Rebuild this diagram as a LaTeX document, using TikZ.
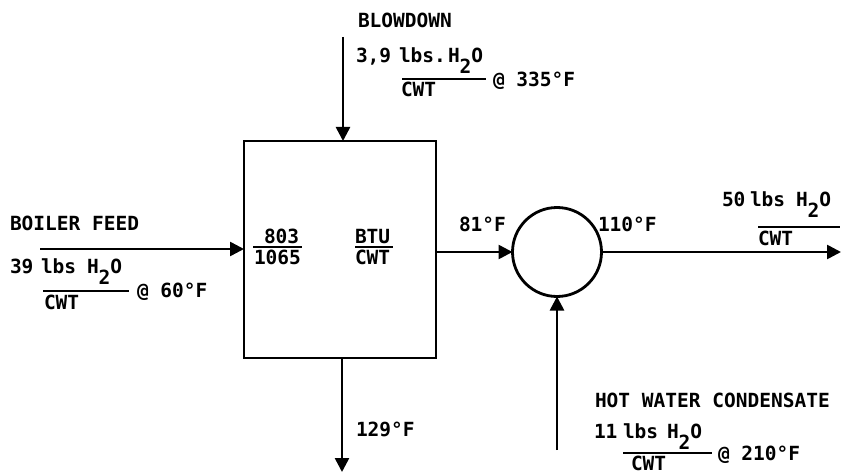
\documentclass[tikz,border=0pt]{standalone}
\usepackage{fontspec}
\setmonofont{DejaVu Sans Mono}
\usetikzlibrary{arrows.meta}
\newcommand{\lblfont}{\fontsize{19.5}{21}\selectfont\ttfamily\bfseries}
\newcommand{\HtwoO}{H\raisebox{-11pt}{2}O}
\tikzset{
  lab/.style={anchor=base west, inner sep=0pt, outer sep=0pt, font=\lblfont},
  flow/.style={line width=2.6pt, -{Triangle[length=14pt,width=14pt]}},
  fbar/.style={line width=1.8pt},
  unit/.style={draw, line width=2.8pt, inner sep=0pt, outer sep=0pt}
}
\begin{document}
\begin{tikzpicture}[x=1pt,y=-1pt]
\useasboundingbox (0,0) rectangle (841,476);
% units
\node[unit, rectangle, minimum width=192pt, minimum height=217pt] (boiler) at (340,249.5) {};
\node[unit, circle, minimum size=89pt] (hx) at (557,252) {};
% free ends
\coordinate (feedstart) at (40,249);
\coordinate (blowstart) at (343,37);
\coordinate (bottomend) at (342,472);
\coordinate (outend) at (841,252);
\coordinate (hwstart) at (557,450);
% connectors
\draw[flow] (feedstart) -- (feedstart -| boiler.west);
\draw[flow] (blowstart) -- (blowstart |- boiler.north);
\draw[flow] (bottomend |- boiler.south) -- (bottomend);
\draw[flow] (hx.west -| boiler.east) -- (hx.west);
\draw[flow] (hx.east) -- (outend);
\draw[flow] (hwstart) -- (hx.south);
% blowdown labels
\node[lab] (blowlbl) at (358,28) {BLOWDOWN};
\node[lab] (blowq) at (356,63) {3,9};
\node[lab] (blowu) at (399,63) {lbs.};
\node[lab] (blowh) at (448,63) {\HtwoO};
\draw[fbar] (402,79) -- (486,79);
\node[lab] (blowc) at (401,97) {CWT};
\node[lab] (blowt) at (493,87) {@ 335°F};
% boiler feed labels
\node[lab] (feedlbl) at (10,230) {BOILER FEED};
\node[lab] (feedq) at (10,273) {39};
\node[lab] (feedu) at (41,273) {lbs};
\node[lab] (feedh) at (87,273) {\HtwoO};
\draw[fbar] (43,291) -- (129,291);
\node[lab] (feedc) at (44,309) {CWT};
\node[lab] (feedt) at (137,297) {@ 60°F};
% box texts
\node[lab] (n803) at (264,243) {803};
\draw[fbar] (253,247) -- (302,247);
\node[lab] (n1065) at (254,264) {1065};
\node[lab] (nbtu) at (355,243) {BTU};
\draw[fbar] (355,247) -- (393,247);
\node[lab] (ncwt) at (355,264) {CWT};
% temperatures
\node[lab] (t81) at (459,231) {81°F};
\node[lab] (t110) at (598,231) {110°F};
\node[lab] (t129) at (356,436) {129°F};
% output labels
\node[lab] (outq) at (722,206) {50};
\node[lab] (outu) at (750,206) {lbs};
\node[lab] (outh) at (796,206) {\HtwoO};
\draw[fbar] (758,227) -- (840,227);
\node[lab] (outc) at (758,245) {CWT};
% hot water labels
\node[lab] (hwlbl) at (595,407) {HOT WATER CONDENSATE};
\node[lab] (hwq) at (594,438) {11};
\node[lab] (hwu) at (623,438) {lbs};
\node[lab] (hwh) at (667,438) {\HtwoO};
\draw[fbar] (623,453) -- (712,453);
\node[lab] (hwc) at (631,470) {CWT};
\node[lab] (hwt) at (718,460) {@ 210°F};
\end{tikzpicture}
\end{document}
